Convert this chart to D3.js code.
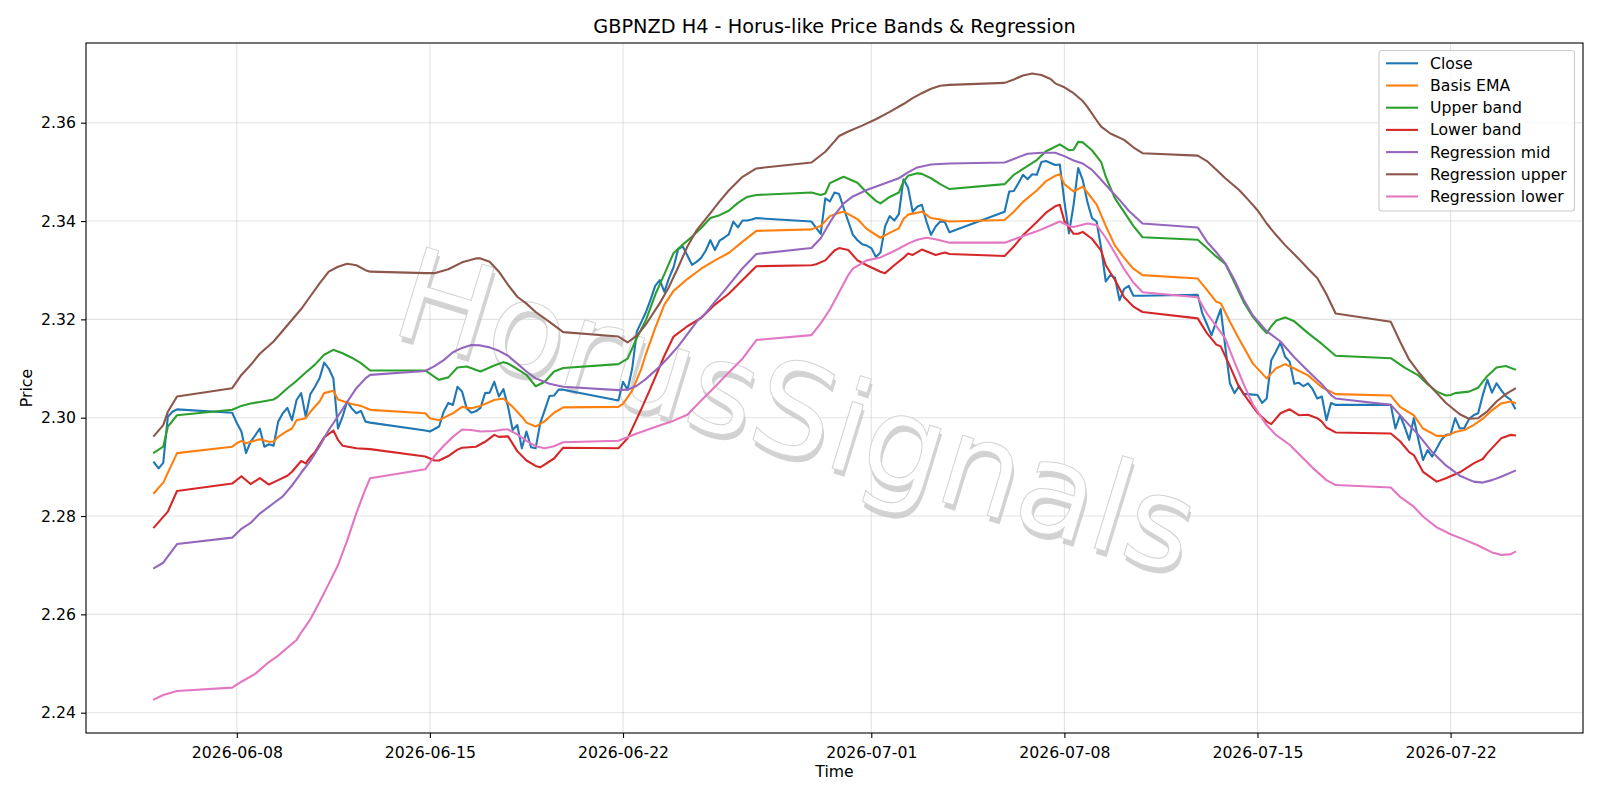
<!DOCTYPE html>
<html><head><meta charset="utf-8">
<script src="https://cdn.jsdelivr.net/npm/d3@7"></script>
<style>body{margin:0;background:#fff}svg{display:block}text{font-family:"DejaVu Sans",sans-serif}</style>
</head><body><svg id="c" width="1600" height="800"></svg>
<script>
// ---- DATA ----
const titleText = "GBPNZD H4 - Horus-like Price Bands & Regression";
const seriesNames = ["Close","Basis EMA","Upper band","Lower band","Regression mid","Regression upper","Regression lower"];
const seriesColors = ["#1f77b4","#ff7f0e","#2ca02c","#d62728","#9467bd","#8c564b","#e377c2"];
const xTickLabels = ["2026-06-08","2026-06-15","2026-06-22","2026-07-01","2026-07-08","2026-07-15","2026-07-22"];
const yTickValues = [2.24,2.26,2.28,2.30,2.32,2.34,2.36];
const xDomain = ["2026-06-02 12:48","2026-07-26 19:12"];
const yDomain = [2.23587, 2.37621];

const closeData = [
["06-05 00",2.2909],["06-05 04",2.2897],["06-05 08",2.2908],["06-05 12",2.3002],["06-05 16",2.3012],["06-05 20",2.3017],
["06-07 20",2.3010],
["06-08 00",2.2989],["06-08 04",2.2972],["06-08 08",2.2928],["06-08 12",2.2951],["06-08 16",2.2964],["06-08 20",2.2978],
["06-09 00",2.2941],["06-09 04",2.2946],["06-09 08",2.2943],["06-09 12",2.2992],["06-09 16",2.3009],["06-09 20",2.3020],
["06-10 00",2.2995],["06-10 04",2.3036],["06-10 08",2.3050],["06-10 12",2.3002],["06-10 16",2.3048],["06-10 20",2.3063],
["06-11 00",2.3080],["06-11 04",2.3112],["06-11 08",2.3100],["06-11 12",2.3080],["06-11 16",2.2978],["06-11 20",2.3002],
["06-12 00",2.3033],["06-12 04",2.3019],["06-12 08",2.3009],["06-12 12",2.3014],["06-12 16",2.2992],["06-12 20",2.2990],
["06-14 20",2.2974],
["06-15 00",2.2972],["06-15 04",2.2977],["06-15 08",2.2982],["06-15 12",2.3012],["06-15 16",2.3030],["06-15 20",2.3026],
["06-16 00",2.3063],["06-16 04",2.3053],["06-16 08",2.3019],["06-16 12",2.3010],["06-16 16",2.3013],["06-16 20",2.3020],
["06-17 00",2.3050],["06-17 04",2.3051],["06-17 08",2.3073],["06-17 12",2.3043],["06-17 16",2.3058],["06-17 20",2.3022],
["06-18 00",2.2975],["06-18 04",2.2985],["06-18 08",2.2938],["06-18 12",2.2972],["06-18 16",2.2940],["06-18 20",2.2938],
["06-19 00",2.2989],["06-19 04",2.3016],["06-19 08",2.3044],["06-19 12",2.3045],["06-19 16",2.3057],["06-19 20",2.3057],
["06-21 20",2.3035],
["06-22 00",2.3073],["06-22 04",2.3057],["06-22 08",2.3100],["06-22 12",2.3175],["06-22 16",2.3195],["06-22 20",2.3215],
["06-23 00",2.3240],["06-23 04",2.3268],["06-23 08",2.3280],["06-23 12",2.3256],["06-23 16",2.3284],["06-23 20",2.3306],
["06-24 00",2.3343],["06-24 04",2.3348],["06-24 08",2.3330],["06-24 12",2.3311],["06-24 16",2.3317],["06-24 20",2.3325],
["06-25 00",2.3340],["06-25 04",2.3361],["06-25 08",2.3341],["06-25 12",2.3360],["06-25 16",2.3366],["06-25 20",2.3373],
["06-26 00",2.3399],["06-26 04",2.3387],["06-26 08",2.3401],["06-26 12",2.3401],["06-26 16",2.3403],["06-26 20",2.3406],
["06-28 20",2.3399],
["06-29 00",2.3386],["06-29 04",2.3374],["06-29 08",2.3446],["06-29 12",2.3440],["06-29 16",2.3458],["06-29 20",2.3455],
["06-30 00",2.3426],["06-30 04",2.3399],["06-30 08",2.3372],["06-30 12",2.3361],["06-30 16",2.3353],["06-30 20",2.3350],
["07-01 00",2.3345],["07-01 04",2.3327],["07-01 08",2.3336],["07-01 12",2.3389],["07-01 16",2.3410],["07-01 20",2.3401],
["07-02 00",2.3414],["07-02 04",2.3485],["07-02 08",2.3468],["07-02 12",2.3419],["07-02 16",2.3429],["07-02 20",2.3433],
["07-03 00",2.3399],["07-03 04",2.3372],["07-03 08",2.3389],["07-03 12",2.3399],["07-03 16",2.3398],["07-03 20",2.3377],
["07-05 20",2.3419],
["07-06 00",2.3460],["07-06 04",2.3461],["07-06 08",2.3477],["07-06 12",2.3494],["07-06 16",2.3485],["07-06 20",2.3495],
["07-07 00",2.3494],["07-07 04",2.3520],["07-07 08",2.3522],["07-07 12",2.3518],["07-07 16",2.3514],["07-07 20",2.3515],
["07-08 00",2.3440],["07-08 04",2.3375],["07-08 08",2.3433],["07-08 12",2.3508],["07-08 16",2.3483],["07-08 20",2.3439],
["07-09 00",2.3406],["07-09 04",2.3399],["07-09 08",2.3345],["07-09 12",2.3277],["07-09 16",2.3290],["07-09 20",2.3285],
["07-10 00",2.3239],["07-10 04",2.3262],["07-10 08",2.3268],["07-10 12",2.3248],["07-10 16",2.3248],["07-10 20",2.3248],
["07-12 20",2.3250],
["07-13 00",2.3212],["07-13 04",2.3190],["07-13 08",2.3168],["07-13 12",2.3195],["07-13 16",2.3221],["07-13 20",2.3144],
["07-14 00",2.3070],["07-14 04",2.3050],["07-14 08",2.3064],["07-14 12",2.3048],["07-14 16",2.3048],["07-14 20",2.3047],
["07-15 00",2.3046],["07-15 04",2.3030],["07-15 08",2.3039],["07-15 12",2.3117],["07-15 16",2.3134],["07-15 20",2.3153],
["07-16 00",2.3124],["07-16 04",2.3114],["07-16 08",2.3069],["07-16 12",2.3071],["07-16 16",2.3064],["07-16 20",2.3070],
["07-17 00",2.3058],["07-17 04",2.3039],["07-17 08",2.3043],["07-17 12",2.2995],["07-17 16",2.3030],["07-17 20",2.3026],
["07-19 20",2.3026],
["07-20 00",2.2978],["07-20 04",2.3005],["07-20 08",2.2982],["07-20 12",2.2955],["07-20 16",2.2999],["07-20 20",2.2955],
["07-21 00",2.2914],["07-21 04",2.2934],["07-21 08",2.2921],["07-21 12",2.2938],["07-21 16",2.2955],["07-21 20",2.2965],
["07-22 00",2.2966],["07-22 04",2.2999],["07-22 08",2.2978],["07-22 12",2.2979],["07-22 16",2.2997],["07-22 20",2.3005],
["07-23 00",2.3009],["07-23 04",2.3046],["07-23 08",2.3077],["07-23 12",2.3051],["07-23 16",2.3070],["07-23 20",2.3056],
["07-24 00",2.3044],["07-24 04",2.3037],["07-24 08",2.3019]
];

const emaData = [
["06-05 00",2.2847],["06-05 08",2.2868],["06-05 20",2.2928],["06-07 20",2.2941],
["06-08 00",2.2948],["06-08 04",2.2953],["06-08 08",2.2948],["06-08 12",2.2951],["06-08 20",2.2956],
["06-09 04",2.2951],["06-09 08",2.2951],["06-09 12",2.2961],["06-09 20",2.2973],["06-10 00",2.2978],
["06-10 04",2.2995],["06-10 12",2.2999],["06-10 16",2.3012],["06-11 00",2.3033],["06-11 04",2.3050],
["06-11 12",2.3055],["06-11 16",2.3037],["06-12 00",2.3031],["06-12 04",2.3028],["06-12 12",2.3024],["06-12 20",2.3016],
["06-14 20",2.3009],["06-15 00",2.2999],["06-15 08",2.2995],["06-15 20",2.3009],["06-16 04",2.3022],
["06-16 12",2.3019],["06-16 20",2.3024],["06-17 08",2.3036],["06-17 16",2.3039],["06-18 00",2.3022],
["06-18 08",2.3002],["06-18 12",2.2990],["06-18 20",2.2982],["06-19 04",2.2993],["06-19 12",2.3010],["06-19 20",2.3021],
["06-21 20",2.3022],["06-22 00",2.3028],["06-22 08",2.3055],["06-22 16",2.3100],["06-22 20",2.3130],
["06-23 04",2.3182],["06-23 12",2.3230],["06-23 20",2.3258],["06-24 08",2.3282],["06-24 20",2.3303],
["06-25 08",2.3320],["06-25 20",2.3335],["06-26 08",2.3358],["06-26 20",2.3380],
["06-28 20",2.3383],["06-29 04",2.3390],["06-29 12",2.3410],["06-29 20",2.3417],["06-30 00",2.3419],
["06-30 12",2.3404],["06-30 20",2.3384],["07-01 08",2.3366],["07-01 16",2.3376],["07-02 00",2.3385],
["07-02 04",2.3404],["07-02 08",2.3413],["07-02 20",2.3419],["07-03 04",2.3406],["07-03 12",2.3403],["07-03 20",2.3399],
["07-05 20",2.3402],["07-06 04",2.3419],["07-06 12",2.3439],["07-07 00",2.3462],["07-07 08",2.3481],
["07-07 16",2.3492],["07-07 20",2.3495],["07-08 00",2.3475],["07-08 08",2.3460],["07-08 16",2.3470],
["07-08 20",2.3458],["07-09 04",2.3434],["07-09 12",2.3390],["07-09 20",2.3350],["07-10 04",2.3325],
["07-10 12",2.3303],["07-10 20",2.3290],
["07-12 20",2.3283],["07-13 04",2.3260],["07-13 12",2.3236],["07-13 16",2.3233],["07-14 00",2.3195],
["07-14 08",2.3160],["07-14 20",2.3110],["07-15 08",2.3080],["07-15 16",2.3100],["07-16 00",2.3109],
["07-16 08",2.3100],["07-16 20",2.3086],["07-17 08",2.3062],["07-17 20",2.3048],
["07-19 20",2.3045],["07-20 04",2.3022],["07-20 16",2.3005],["07-21 00",2.2978],["07-21 12",2.2963],
["07-21 20",2.2963],["07-22 04",2.2971],["07-22 12",2.2975],["07-22 20",2.2985],["07-23 04",2.2998],
["07-23 12",2.3015],["07-23 20",2.3029],["07-24 04",2.3033],["07-24 08",2.3030]
];

const upperData = [
["06-05 00",2.2929],["06-05 08",2.2941],["06-05 12",2.2982],["06-05 20",2.3005],["06-07 20",2.3016],
["06-08 04",2.3024],["06-08 12",2.3029],["06-08 20",2.3032],["06-09 08",2.3037],["06-09 12",2.3043],
["06-09 20",2.3060],["06-10 04",2.3075],["06-10 12",2.3092],["06-10 20",2.3108],["06-11 04",2.3128],
["06-11 12",2.3138],["06-11 20",2.3131],["06-12 04",2.3122],["06-12 12",2.3111],["06-12 20",2.3096],
["06-14 20",2.3096],["06-15 04",2.3083],["06-15 08",2.3077],["06-15 16",2.3082],["06-16 00",2.3102],
["06-16 08",2.3104],["06-16 20",2.3094],["06-17 08",2.3106],["06-17 16",2.3113],["06-17 20",2.3110],
["06-18 04",2.3099],["06-18 12",2.3087],["06-18 20",2.3064],["06-19 04",2.3073],["06-19 12",2.3094],["06-19 20",2.3101],
["06-21 20",2.3109],["06-22 04",2.3120],["06-22 12",2.3162],["06-22 20",2.3199],["06-23 04",2.3250],
["06-23 12",2.3292],["06-23 20",2.3335],["06-24 04",2.3352],["06-24 12",2.3368],["06-24 20",2.3386],
["06-25 04",2.3406],["06-25 12",2.3412],["06-25 20",2.3421],["06-26 04",2.3437],["06-26 12",2.3449],["06-26 20",2.3453],
["06-28 20",2.3458],["06-29 04",2.3453],["06-29 08",2.3456],["06-29 12",2.3477],["06-29 20",2.3486],
["06-30 00",2.3490],["06-30 12",2.3478],["06-30 20",2.3458],["07-01 04",2.3441],["07-01 08",2.3436],
["07-01 16",2.3449],["07-02 00",2.3458],["07-02 04",2.3480],["07-02 08",2.3492],["07-02 16",2.3497],
["07-02 20",2.3496],["07-03 04",2.3487],["07-03 12",2.3475],["07-03 20",2.3465],
["07-05 20",2.3475],["07-06 04",2.3494],["07-06 12",2.3506],["07-07 00",2.3524],["07-07 08",2.3542],
["07-07 16",2.3551],["07-07 20",2.3556],["07-08 04",2.3544],["07-08 08",2.3545],["07-08 12",2.3561],
["07-08 16",2.3560],["07-09 00",2.3544],["07-09 08",2.3520],["07-09 12",2.3490],["07-09 20",2.3446],
["07-10 04",2.3418],["07-10 12",2.3390],["07-10 20",2.3367],
["07-12 20",2.3362],["07-13 04",2.3345],["07-13 12",2.3328],["07-13 20",2.3313],["07-14 04",2.3275],
["07-14 12",2.3235],["07-14 20",2.3205],["07-15 04",2.3182],["07-15 08",2.3172],["07-15 12",2.3186],
["07-15 16",2.3197],["07-16 00",2.3204],["07-16 08",2.3196],["07-16 20",2.3172],["07-17 08",2.3150],["07-17 20",2.3126],
["07-19 20",2.3121],["07-20 08",2.3102],["07-20 20",2.3086],["07-21 04",2.3068],["07-21 12",2.3053],
["07-21 20",2.3045],["07-22 00",2.3046],["07-22 04",2.3050],["07-22 16",2.3053],["07-23 00",2.3061],
["07-23 08",2.3085],["07-23 16",2.3102],["07-24 00",2.3105],["07-24 08",2.3098]
];

const lowerData = [
["06-05 00",2.2777],["06-05 12",2.2809],["06-05 20",2.2851],["06-07 20",2.2866],
["06-08 04",2.2881],["06-08 12",2.2865],["06-08 20",2.2877],["06-09 04",2.2864],["06-09 12",2.2873],
["06-09 20",2.2882],["06-10 00",2.2890],["06-10 08",2.2912],["06-10 12",2.2907],["06-10 16",2.2920],
["06-10 20",2.2930],["06-11 04",2.2960],["06-11 12",2.2974],["06-11 16",2.2955],["06-11 20",2.2943],
["06-12 08",2.2938],["06-12 20",2.2936],
["06-14 20",2.2921],["06-15 04",2.2913],["06-15 08",2.2913],["06-15 16",2.2922],["06-16 00",2.2935],
["06-16 04",2.2939],["06-16 16",2.2941],["06-17 00",2.2951],["06-17 08",2.2965],["06-17 12",2.2961],
["06-17 20",2.2962],["06-18 04",2.2932],["06-18 12",2.2913],["06-18 20",2.2902],["06-19 00",2.2899],
["06-19 12",2.2917],["06-19 20",2.2939],
["06-21 20",2.2938],["06-22 04",2.2958],["06-22 16",2.3018],["06-23 00",2.3060],["06-23 12",2.3126],
["06-23 20",2.3165],["06-24 08",2.3186],["06-24 20",2.3203],["06-25 08",2.3230],["06-25 20",2.3252],
["06-26 08",2.3280],["06-26 20",2.3308],
["06-28 20",2.3310],["06-29 00",2.3312],["06-29 08",2.3320],["06-29 16",2.3340],["06-29 20",2.3345],
["06-30 04",2.3341],["06-30 12",2.3320],["06-30 20",2.3310],["07-01 08",2.3297],["07-01 12",2.3294],
["07-01 20",2.3310],["07-02 04",2.3325],["07-02 08",2.3334],["07-02 12",2.3331],["07-02 20",2.3342],
["07-03 08",2.3331],["07-03 16",2.3336],["07-03 20",2.3333],
["07-05 20",2.3329],["07-06 04",2.3348],["07-06 12",2.3371],["07-07 00",2.3398],["07-07 08",2.3417],
["07-07 16",2.3430],["07-07 20",2.3433],["07-08 00",2.3400],["07-08 08",2.3374],["07-08 12",2.3374],
["07-08 16",2.3378],["07-09 00",2.3364],["07-09 08",2.3340],["07-09 12",2.3310],["07-09 20",2.3280],
["07-10 04",2.3245],["07-10 12",2.3226],["07-10 20",2.3215],
["07-12 20",2.3202],["07-13 04",2.3172],["07-13 12",2.3149],["07-13 16",2.3145],["07-14 00",2.3105],
["07-14 08",2.3062],["07-14 16",2.3035],["07-15 00",2.3010],["07-15 08",2.2992],["07-15 12",2.2987],
["07-15 20",2.3009],["07-16 04",2.3017],["07-16 12",2.3005],["07-16 20",2.3006],["07-17 04",2.2999],
["07-17 08",2.2992],["07-17 12",2.2980],["07-17 20",2.2970],
["07-19 20",2.2968],["07-20 04",2.2952],["07-20 12",2.2930],["07-20 16",2.2924],["07-21 00",2.2890],
["07-21 12",2.2870],["07-21 20",2.2877],["07-22 08",2.2889],["07-22 20",2.2907],["07-23 04",2.2916],
["07-23 08",2.2928],["07-23 20",2.2958],["07-24 04",2.2965],["07-24 08",2.2964]
];

const regMidData = [
["06-05 00",2.2694],["06-05 08",2.2705],["06-05 20",2.2743],["06-07 20",2.2756],
["06-08 04",2.2774],["06-08 12",2.2786],["06-08 20",2.2805],["06-09 08",2.2826],["06-09 16",2.2840],
["06-10 00",2.2862],["06-10 08",2.2888],["06-10 16",2.2912],["06-11 00",2.2942],["06-11 08",2.2975],
["06-11 16",2.3003],["06-12 00",2.3032],["06-12 08",2.3060],["06-12 16",2.3080],["06-12 20",2.3087],
["06-14 20",2.3095],["06-15 04",2.3105],["06-15 12",2.3117],["06-15 20",2.3133],["06-16 04",2.3142],
["06-16 12",2.3148],["06-16 20",2.3147],["06-17 04",2.3143],["06-17 12",2.3136],["06-17 20",2.3126],
["06-18 04",2.3110],["06-18 12",2.3094],["06-18 20",2.3080],["06-19 08",2.3069],["06-19 20",2.3063],
["06-21 20",2.3056],["06-22 04",2.3057],["06-22 12",2.3065],["06-22 20",2.3079],["06-23 08",2.3104],
["06-23 16",2.3124],["06-24 00",2.3145],["06-24 08",2.3170],["06-24 16",2.3195],["06-25 00",2.3213],
["06-25 08",2.3236],["06-25 16",2.3258],["06-26 00",2.3281],["06-26 08",2.3304],["06-26 20",2.3333],
["06-28 20",2.3345],["06-29 04",2.3365],["06-29 12",2.3397],["06-29 16",2.3412],["06-30 00",2.3436],
["06-30 08",2.3450],["06-30 20",2.3463],["07-01 12",2.3477],["07-02 00",2.3487],["07-02 08",2.3499],
["07-02 16",2.3509],["07-03 04",2.3515],["07-03 20",2.3517],
["07-05 20",2.3519],["07-06 08",2.3530],["07-06 16",2.3537],["07-07 04",2.3539],["07-07 16",2.3539],
["07-08 00",2.3532],["07-08 08",2.3523],["07-08 16",2.3517],["07-09 00",2.3504],["07-09 08",2.3484],
["07-09 16",2.3463],["07-10 00",2.3443],["07-10 08",2.3421],["07-10 20",2.3395],
["07-12 20",2.3387],["07-13 04",2.3358],["07-13 12",2.3337],["07-13 20",2.3314],["07-14 04",2.3280],
["07-14 12",2.3240],["07-14 20",2.3208],["07-15 08",2.3176],["07-15 20",2.3155],["07-16 08",2.3123],
["07-16 20",2.3095],["07-17 08",2.3068],["07-17 16",2.3046],["07-17 20",2.3039],
["07-19 20",2.3026],["07-20 08",2.2995],["07-20 20",2.2965],["07-21 08",2.2930],["07-21 20",2.2903],
["07-22 08",2.2882],["07-22 20",2.2870],["07-23 04",2.2868],["07-23 12",2.2873],["07-23 20",2.2880],["07-24 08",2.2892]
];

const regUpperData = [
["06-05 00",2.2963],["06-05 08",2.2985],["06-05 12",2.3012],["06-05 20",2.3043],["06-07 20",2.3060],
["06-08 04",2.3087],["06-08 12",2.3107],["06-08 20",2.3130],["06-09 08",2.3155],["06-09 20",2.3188],
["06-10 08",2.3221],["06-10 16",2.3247],["06-11 00",2.3273],["06-11 08",2.3297],["06-11 16",2.3307],
["06-12 00",2.3313],["06-12 08",2.3310],["06-12 16",2.3300],["06-12 20",2.3297],
["06-14 20",2.3294],["06-15 04",2.3294],["06-15 16",2.3302],["06-16 04",2.3316],["06-16 16",2.3324],
["06-16 20",2.3324],["06-17 04",2.3317],["06-17 12",2.3297],["06-17 20",2.3270],["06-18 04",2.3246],
["06-18 12",2.3232],["06-18 20",2.3215],["06-19 08",2.3195],["06-19 20",2.3174],
["06-21 20",2.3165],["06-22 04",2.3153],["06-22 12",2.3167],["06-22 20",2.3190],["06-23 08",2.3233],
["06-23 16",2.3266],["06-24 00",2.3306],["06-24 08",2.3348],["06-24 16",2.3381],["06-25 04",2.3416],
["06-25 12",2.3440],["06-25 20",2.3462],["06-26 08",2.3490],["06-26 20",2.3507],
["06-28 20",2.3519],["06-29 08",2.3541],["06-29 16",2.3562],["06-29 20",2.3573],["06-30 04",2.3582],
["06-30 16",2.3594],["07-01 04",2.3607],["07-01 16",2.3622],["07-02 04",2.3638],["07-02 12",2.3650],
["07-02 20",2.3660],["07-03 04",2.3669],["07-03 12",2.3675],["07-03 20",2.3677],
["07-05 20",2.3681],["07-06 04",2.3688],["07-06 12",2.3696],["07-06 20",2.3700],["07-07 04",2.3697],
["07-07 12",2.3689],["07-07 16",2.3680],["07-08 00",2.3672],["07-08 08",2.3660],["07-08 16",2.3644],
["07-08 20",2.3632],["07-09 04",2.3605],["07-09 08",2.3592],["07-09 16",2.3578],["07-10 04",2.3565],
["07-10 12",2.3550],["07-10 20",2.3538],
["07-12 20",2.3533],["07-13 04",2.3522],["07-13 12",2.3505],["07-13 20",2.3487],["07-14 08",2.3463],
["07-14 16",2.3443],["07-15 00",2.3422],["07-15 08",2.3395],["07-15 16",2.3372],["07-16 00",2.3351],
["07-16 12",2.3323],["07-16 20",2.3303],["07-17 04",2.3284],["07-17 12",2.3251],["07-17 20",2.3212],
["07-19 20",2.3195],["07-20 04",2.3155],["07-20 12",2.3118],["07-20 20",2.3093],["07-21 04",2.3070],
["07-21 12",2.3050],["07-21 20",2.3030],["07-22 08",2.3007],["07-22 16",2.2998],["07-23 00",2.2999],
["07-23 08",2.3013],["07-23 16",2.3033],["07-24 00",2.3048],["07-24 08",2.3059]
];

const regLowerData = [
["06-05 00",2.2427],["06-05 08",2.2436],["06-05 20",2.2444],["06-07 20",2.2451],
["06-08 04",2.2463],["06-08 16",2.2479],["06-09 04",2.2503],["06-09 12",2.2516],["06-09 20",2.2532],
["06-10 04",2.2548],["06-10 08",2.2563],["06-10 16",2.2590],["06-11 00",2.2625],["06-11 08",2.2662],
["06-11 16",2.2700],["06-12 00",2.2750],["06-12 08",2.2806],["06-12 16",2.2855],["06-12 20",2.2877],
["06-14 20",2.2895],["06-15 04",2.2922],["06-15 12",2.2943],["06-15 20",2.2961],["06-16 04",2.2976],
["06-16 12",2.2975],["06-16 20",2.2972],["06-17 08",2.2973],["06-17 16",2.2976],["06-17 20",2.2976],
["06-18 04",2.2966],["06-18 12",2.2953],["06-18 20",2.2942],["06-19 04",2.2938],["06-19 12",2.2942],["06-19 20",2.2950],
["06-21 20",2.2953],["06-22 12",2.2968],["06-23 04",2.2981],["06-23 20",2.2994],["06-24 08",2.3006],
["06-24 20",2.3035],["06-25 08",2.3063],["06-25 20",2.3092],["06-26 08",2.3120],["06-26 20",2.3158],
["06-28 20",2.3168],["06-29 04",2.3192],["06-29 12",2.3220],["06-29 20",2.3255],["06-30 04",2.3290],
["06-30 08",2.3303],["06-30 20",2.3320],["07-01 08",2.3326],["07-01 20",2.3339],["07-02 08",2.3354],
["07-02 16",2.3362],["07-03 00",2.3366],["07-03 08",2.3363],["07-03 20",2.3356],
["07-05 20",2.3356],["07-06 08",2.3366],["07-07 00",2.3379],["07-07 12",2.3391],["07-07 20",2.3399],
["07-08 04",2.3390],["07-08 08",2.3388],["07-08 20",2.3395],["07-09 04",2.3392],["07-09 12",2.3366],
["07-09 20",2.3335],["07-10 04",2.3302],["07-10 12",2.3275],["07-10 20",2.3255],
["07-12 20",2.3245],["07-13 04",2.3212],["07-13 12",2.3187],["07-13 20",2.3161],["07-14 04",2.3113],
["07-14 12",2.3068],["07-14 20",2.3027],["07-15 08",2.2985],["07-15 16",2.2965],["07-16 04",2.2945],
["07-16 12",2.2926],["07-17 00",2.2898],["07-17 12",2.2873],["07-17 20",2.2863],
["07-19 20",2.2858],["07-20 04",2.2839],["07-20 16",2.2819],["07-21 00",2.2799],["07-21 12",2.2777],
["07-22 00",2.2763],["07-22 12",2.2752],["07-23 00",2.2740],["07-23 12",2.2726],["07-23 20",2.2721],
["07-24 04",2.2722],["07-24 08",2.2727]
];

const allSeries = [closeData, emaData, upperData, lowerData, regMidData, regUpperData, regLowerData];

// ---- CHART ----
const svg = d3.select("#c");
const M = {left:86, top:43, right:1583, bottom:733};
const parseH = d3.utcParse("%Y-%m-%d %H");
const parseHM = d3.utcParse("%Y-%m-%d %H:%M");
const parseD = d3.utcParse("%Y-%m-%d");
const pt = s => parseH("2026-" + s);

const x = d3.scaleUtc().domain(xDomain.map(s => parseHM(s))).range([M.left, M.right]);
const y = d3.scaleLinear().domain(yDomain).range([M.bottom, M.top]);

const FS = 15.7;

// grid
const grid = svg.append("g");
xTickLabels.forEach(t => {
  const xx = x(parseD(t));
  grid.append("line").attr("x1", xx).attr("x2", xx).attr("y1", M.top).attr("y2", M.bottom)
    .attr("stroke", "#b0b0b0").attr("stroke-opacity", 0.35).attr("stroke-width", 1.1);
});
yTickValues.forEach(v => {
  const yy = y(v);
  grid.append("line").attr("x1", M.left).attr("x2", M.right).attr("y1", yy).attr("y2", yy)
    .attr("stroke", "#b0b0b0").attr("stroke-opacity", 0.35).attr("stroke-width", 1.1);
});

// watermark
const wm = svg.append("g").attr("transform", "translate(794,420) rotate(17)");
wm.append("text").text("HorusSignals").attr("x", 3).attr("y", 5)
  .attr("text-anchor", "middle").attr("dominant-baseline", "middle")
  .attr("font-size", 127).attr("fill", "#c4c4c4").attr("opacity", 0.75);
wm.append("text").text("HorusSignals")
  .attr("text-anchor", "middle").attr("dominant-baseline", "middle")
  .attr("font-size", 127).attr("fill", "#ffffff").attr("stroke", "#d4d4d4").attr("stroke-width", 1);

// clip
svg.append("clipPath").attr("id", "clip").append("rect")
  .attr("x", M.left).attr("y", M.top).attr("width", M.right - M.left).attr("height", M.bottom - M.top);

const line = d3.line().x(d => x(pt(d[0]))).y(d => y(d[1]));
const lines = svg.append("g").attr("clip-path", "url(#clip)");
allSeries.forEach((s, i) => {
  lines.append("path").datum(s).attr("d", line).attr("fill", "none")
    .attr("stroke", seriesColors[i]).attr("stroke-width", 2.1)
    .attr("stroke-linejoin", "round").attr("stroke-linecap", "square");
});

// axes
const xAxis = d3.axisBottom(x).tickValues(xTickLabels.map(t => parseD(t))).tickFormat(d3.utcFormat("%Y-%m-%d")).tickSize(5).tickPadding(5);
const yAxis = d3.axisLeft(y).tickValues(yTickValues).tickFormat(d3.format(".2f")).tickSize(5).tickPadding(5);
const gx = svg.append("g").attr("transform", `translate(0,${M.bottom})`).call(xAxis);
const gy = svg.append("g").attr("transform", `translate(${M.left},0)`).call(yAxis);
[gx, gy].forEach(g => {
  g.select(".domain").remove();
  g.selectAll("text").attr("font-size", FS).attr("font-family", "DejaVu Sans").attr("fill", "#000");
  g.selectAll("line").attr("stroke", "#000").attr("stroke-width", 1.1);
});
gx.selectAll("text").attr("dy", "0.95em");

// spines
svg.append("rect").attr("x", M.left).attr("y", M.top).attr("width", M.right - M.left).attr("height", M.bottom - M.top)
  .attr("fill", "none").attr("stroke", "#000").attr("stroke-width", 1.1);

// title and labels
svg.append("text").text(titleText).attr("x", (M.left + M.right) / 2).attr("y", 33)
  .attr("text-anchor", "middle").attr("font-size", 19.3).attr("fill", "#000");
svg.append("text").text("Time").attr("x", (M.left + M.right) / 2).attr("y", 777)
  .attr("text-anchor", "middle").attr("font-size", FS).attr("fill", "#000");
svg.append("text").text("Price").attr("transform", `translate(32,${(M.top + M.bottom) / 2}) rotate(-90)`)
  .attr("text-anchor", "middle").attr("font-size", FS).attr("fill", "#000");

// legend
const lg = svg.append("g");
lg.append("rect").attr("x", 1379).attr("y", 50.5).attr("width", 195.5).attr("height", 160.5).attr("rx", 3)
  .attr("fill", "#fff").attr("fill-opacity", 0.8).attr("stroke", "#cccccc").attr("stroke-width", 1.1);
seriesNames.forEach((n, i) => {
  const yy = 63.3 + i * 22.2;
  lg.append("line").attr("x1", 1386).attr("x2", 1418).attr("y1", yy).attr("y2", yy)
    .attr("stroke", seriesColors[i]).attr("stroke-width", 2.1);
  lg.append("text").text(n).attr("x", 1430).attr("y", yy).attr("dominant-baseline", "central")
    .attr("font-size", FS).attr("fill", "#000");
});
</script></body></html>
